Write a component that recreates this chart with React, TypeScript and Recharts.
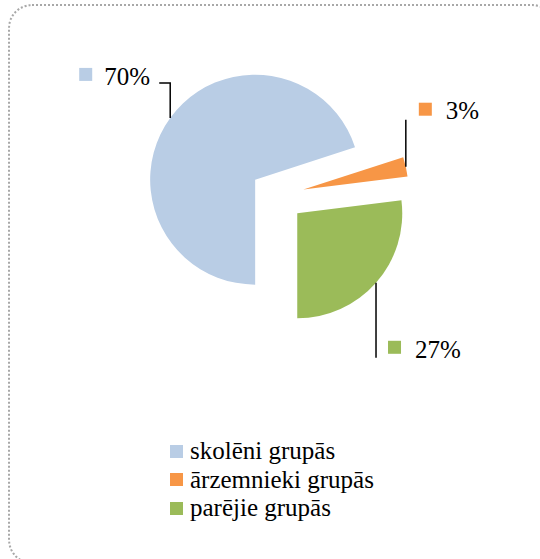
import React from 'react';
import { PieChart, Pie, Cell, Legend } from 'recharts';

const categories = ['skolēni grupās', 'ārzemnieki grupās', 'parējie grupās'];
const values = [70, 3, 27];
const valueLabels = ['70%', '3%', '27%'];
const colors = ['#B9CDE5', '#F79646', '#9BBB59'];

const data = categories.map((name, i) => ({ name, value: values[i] }));
const total = values.reduce((a, b) => a + b, 0);

const W = 540;
const H = 559;
const CX = 277;
const CY = 195.5;
const R = 105;
const EXPLODE = 27;
const START = -90;
const END = -450;
const RAD = Math.PI / 180;
const FONT = "'Liberation Serif', 'DejaVu Serif', serif";

const midAngles = (() => {
  let cum = 0;
  return values.map((v) => {
    const m = START + ((END - START) * (cum + v / 2)) / total;
    cum += v;
    return m;
  });
})();

const labelLayout = [
  { dy: -35, dx: -11, boxDx: -80, boxDy: -15, textDx: -55, textDy: 2 },
  { dy: -47, dx: 0, boxDx: 13, boxDy: -17, textDx: 40, textDy: -1 },
  { dy: 75, dx: 0, boxDx: 12, boxDy: -17, textDx: 39, textDy: 0 },
];

const makeLabel = (sliceIndex: number) => (props: any) => {
  const { cx, cy, midAngle, outerRadius, index } = props;
  if (index !== sliceIndex) return <g />;
  const ax = cx + outerRadius * Math.cos(-midAngle * RAD);
  const ay = cy + outerRadius * Math.sin(-midAngle * RAD);
  const L = labelLayout[sliceIndex];
  const ey = ay + L.dy;
  const ex = ax + L.dx;
  return (
    <g>
      <polyline
        points={`${ax},${ay} ${ax},${ey} ${ex},${ey}`}
        fill="none"
        stroke="#000"
        strokeWidth={1.5}
      />
      <rect x={ex + L.boxDx} y={ey + L.boxDy} width={13} height={13} fill={colors[sliceIndex]} />
      <text
        x={ex + L.textDx}
        y={ey + L.textDy}
        style={{ fontFamily: FONT, fontSize: 25 }}
        fill="#000"
      >
        {valueLabels[sliceIndex]}
      </text>
    </g>
  );
};

const renderLegend = () => (
  <div style={{ fontFamily: FONT, fontSize: 25, color: '#000' }}>
    {categories.map((c, i) => (
      <div key={c} style={{ display: 'flex', alignItems: 'center', height: 28.5, lineHeight: '28.5px' }}>
        <span style={{ display: 'inline-block', width: 13, height: 13, background: colors[i], marginRight: 7 }} />
        <span>{c}</span>
      </div>
    ))}
  </div>
);

export default function App() {
  return (
    <div style={{ position: 'absolute', left: 0, top: 0, width: W, height: H, overflow: 'hidden', background: '#fff', fontFamily: FONT }}>
      <div
        style={{
          position: 'absolute',
          left: 8,
          top: 4,
          width: 548,
          height: 560,
          boxSizing: 'border-box',
          border: '2px dotted #a8a8a8',
          borderRadius: 24,
        }}
      />
      <div style={{ position: 'absolute', left: 0, top: 0 }}>
        <PieChart width={W} height={H} margin={{ top: 0, right: 0, bottom: 0, left: 0 }}>
          {values.map((_, s) => (
            <Pie
              key={s}
              data={data}
              dataKey="value"
              nameKey="name"
              cx={CX + EXPLODE * Math.cos(-midAngles[s] * RAD)}
              cy={CY + EXPLODE * Math.sin(-midAngles[s] * RAD)}
              outerRadius={R}
              innerRadius={0}
              startAngle={START}
              endAngle={END}
              stroke="none"
              isAnimationActive={false}
              labelLine={false}
              label={makeLabel(s)}
              legendType="none"
            >
              {data.map((d, i) => (
                <Cell key={d.name} fill={i === s ? colors[i] : 'transparent'} stroke="none" />
              ))}
            </Pie>
          ))}
          <Legend
            content={renderLegend}
            wrapperStyle={{ position: 'absolute', left: 170, top: 437, width: 'auto', height: 'auto' }}
          />
        </PieChart>
      </div>
    </div>
  );
}
